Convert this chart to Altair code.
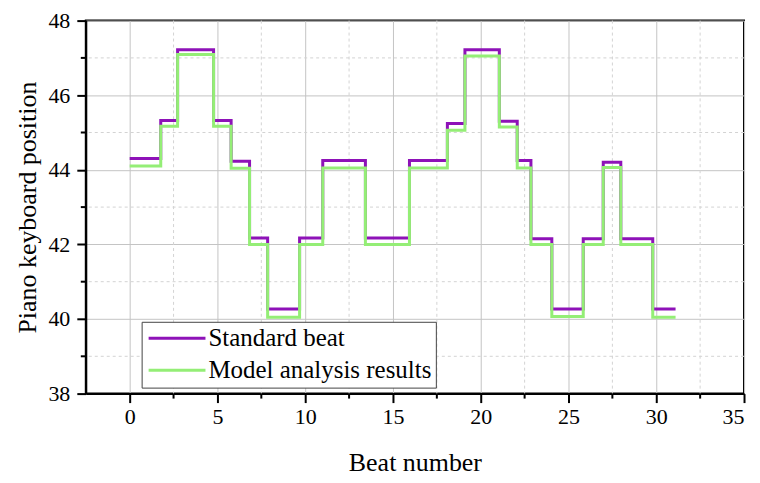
import altair as alt
import pandas as pd

# step start positions (beat number) and final end
step_x = [0, 1.77, 2.73, 4.78, 5.78, 6.83, 7.86, 9.68, 11.0, 13.43, 15.94,
          18.1, 19.1, 21.06, 22.08, 22.86, 24.05, 25.84, 26.98, 27.98, 29.8]
end_x = 31.1

standard = [44.3, 45.32, 47.22, 45.32, 44.23, 42.17, 40.27, 42.17, 44.25, 42.17, 44.25,
            45.24, 47.22, 45.3, 44.25, 42.15, 40.27, 42.15, 44.2, 42.15, 40.27]
model = [44.1, 45.17, 47.09, 45.17, 44.04, 42.0, 40.05, 42.0, 44.05, 42.0, 44.05,
         45.06, 47.05, 45.15, 44.05, 42.0, 40.07, 42.0, 44.06, 42.0, 40.05]

series_names = ["Standard beat", "Model analysis results"]
series_colors = ["#8E12B8", "#94EE76"]

x_ticks = [0, 5, 10, 15, 20, 25, 30, 35]
y_ticks = [38, 40, 42, 44, 46, 48]
x_minor = [2.5, 7.5, 12.5, 17.5, 22.5, 27.5, 32.5]
y_minor = [39, 41, 43, 45, 47]


def series_df(vals, name):
    xs = list(step_x) + [end_x]
    ys = list(vals) + [vals[-1]]
    return pd.DataFrame({"x": xs, "y": ys, "series": name})


df_std = series_df(standard, series_names[0])
df_mod = series_df(model, series_names[1])

X_DOM = [-2.5, 35]
Y_DOM = [38, 48]
FONT = "Liberation Serif"
H = 374

xs = alt.Scale(domain=X_DOM, nice=False, zero=False)
ys = alt.Scale(domain=Y_DOM, nice=False, zero=False)

color = alt.Color(
    "series:N",
    scale=alt.Scale(domain=series_names, range=series_colors),
    legend=alt.Legend(
        title=None, orient="none", legendX=56, legendY=302,
        symbolType="M-1,0H5", symbolSize=361, symbolStrokeWidth=3,
        labelFont=FONT, labelFontSize=25, labelColor="black", labelLimit=400,
        labelOffset=38, rowPadding=6, padding=4,
        strokeColor="#444", fillColor="white",
    ),
)

x_axis = alt.Axis(
    values=x_ticks, title="Beat number", grid=True, gridColor="#c4c4c4", gridWidth=1,
    tickSize=9, tickWidth=2, tickColor="black", domainColor="black", domainWidth=2,
    labelFont=FONT, labelFontSize=22, labelColor="black", labelPadding=4,
    titleFont=FONT, titleFontSize=26, titleFontWeight="normal", titleColor="black",
    titlePadding=22,
)
y_axis = alt.Axis(
    values=y_ticks, title="Piano keyboard position", grid=True, gridColor="#c4c4c4",
    gridWidth=1, tickSize=9, tickWidth=2, tickColor="black", domainColor="black",
    domainWidth=2, labelFont=FONT, labelFontSize=22, labelColor="black", labelPadding=7,
    titleFont=FONT, titleFontSize=26, titleFontWeight="normal", titleColor="black",
    titlePadding=7,
)

line_std = alt.Chart(df_std).mark_line(interpolate="step-after", strokeWidth=3).encode(
    x=alt.X("x:Q", scale=xs, axis=x_axis),
    y=alt.Y("y:Q", scale=ys, axis=y_axis),
    color=color,
)
line_mod = alt.Chart(df_mod).mark_line(interpolate="step-after", strokeWidth=3).encode(
    x=alt.X("x:Q", scale=xs, axis=x_axis),
    y=alt.Y("y:Q", scale=ys, axis=y_axis),
    color=color,
)

xgrid_minor = alt.Chart(pd.DataFrame({"x": x_minor})).mark_rule(
    color="#d3d3d3", strokeDash=[3, 3], strokeWidth=1
).encode(x=alt.X("x:Q", scale=xs, axis=x_axis))

ygrid_minor = alt.Chart(pd.DataFrame({"y": y_minor})).mark_rule(
    color="#d3d3d3", strokeDash=[3, 3], strokeWidth=1
).encode(y=alt.Y("y:Q", scale=ys, axis=y_axis))

xtick_minor = alt.Chart(pd.DataFrame({"x": x_minor})).mark_rule(
    color="black", strokeWidth=2, clip=False
).encode(x=alt.X("x:Q", scale=xs, axis=x_axis), y=alt.value(H), y2=alt.value(H + 5))

ytick_minor = alt.Chart(pd.DataFrame({"y": y_minor})).mark_rule(
    color="black", strokeWidth=2, clip=False
).encode(y=alt.Y("y:Q", scale=ys, axis=y_axis), x=alt.value(0), x2=alt.value(-5))

chart = alt.layer(
    xgrid_minor, ygrid_minor, line_std, line_mod, xtick_minor, ytick_minor
).properties(
    width=660, height=H,
    autosize=alt.AutoSizeParams(type="none"),
    padding={"left": 78, "top": 12, "right": 8, "bottom": 88},
).configure(
    background="white"
).configure_view(
    stroke="black", strokeWidth=2
)

chart.save("out.html", embed_options={"renderer": "svg", "actions": False})
